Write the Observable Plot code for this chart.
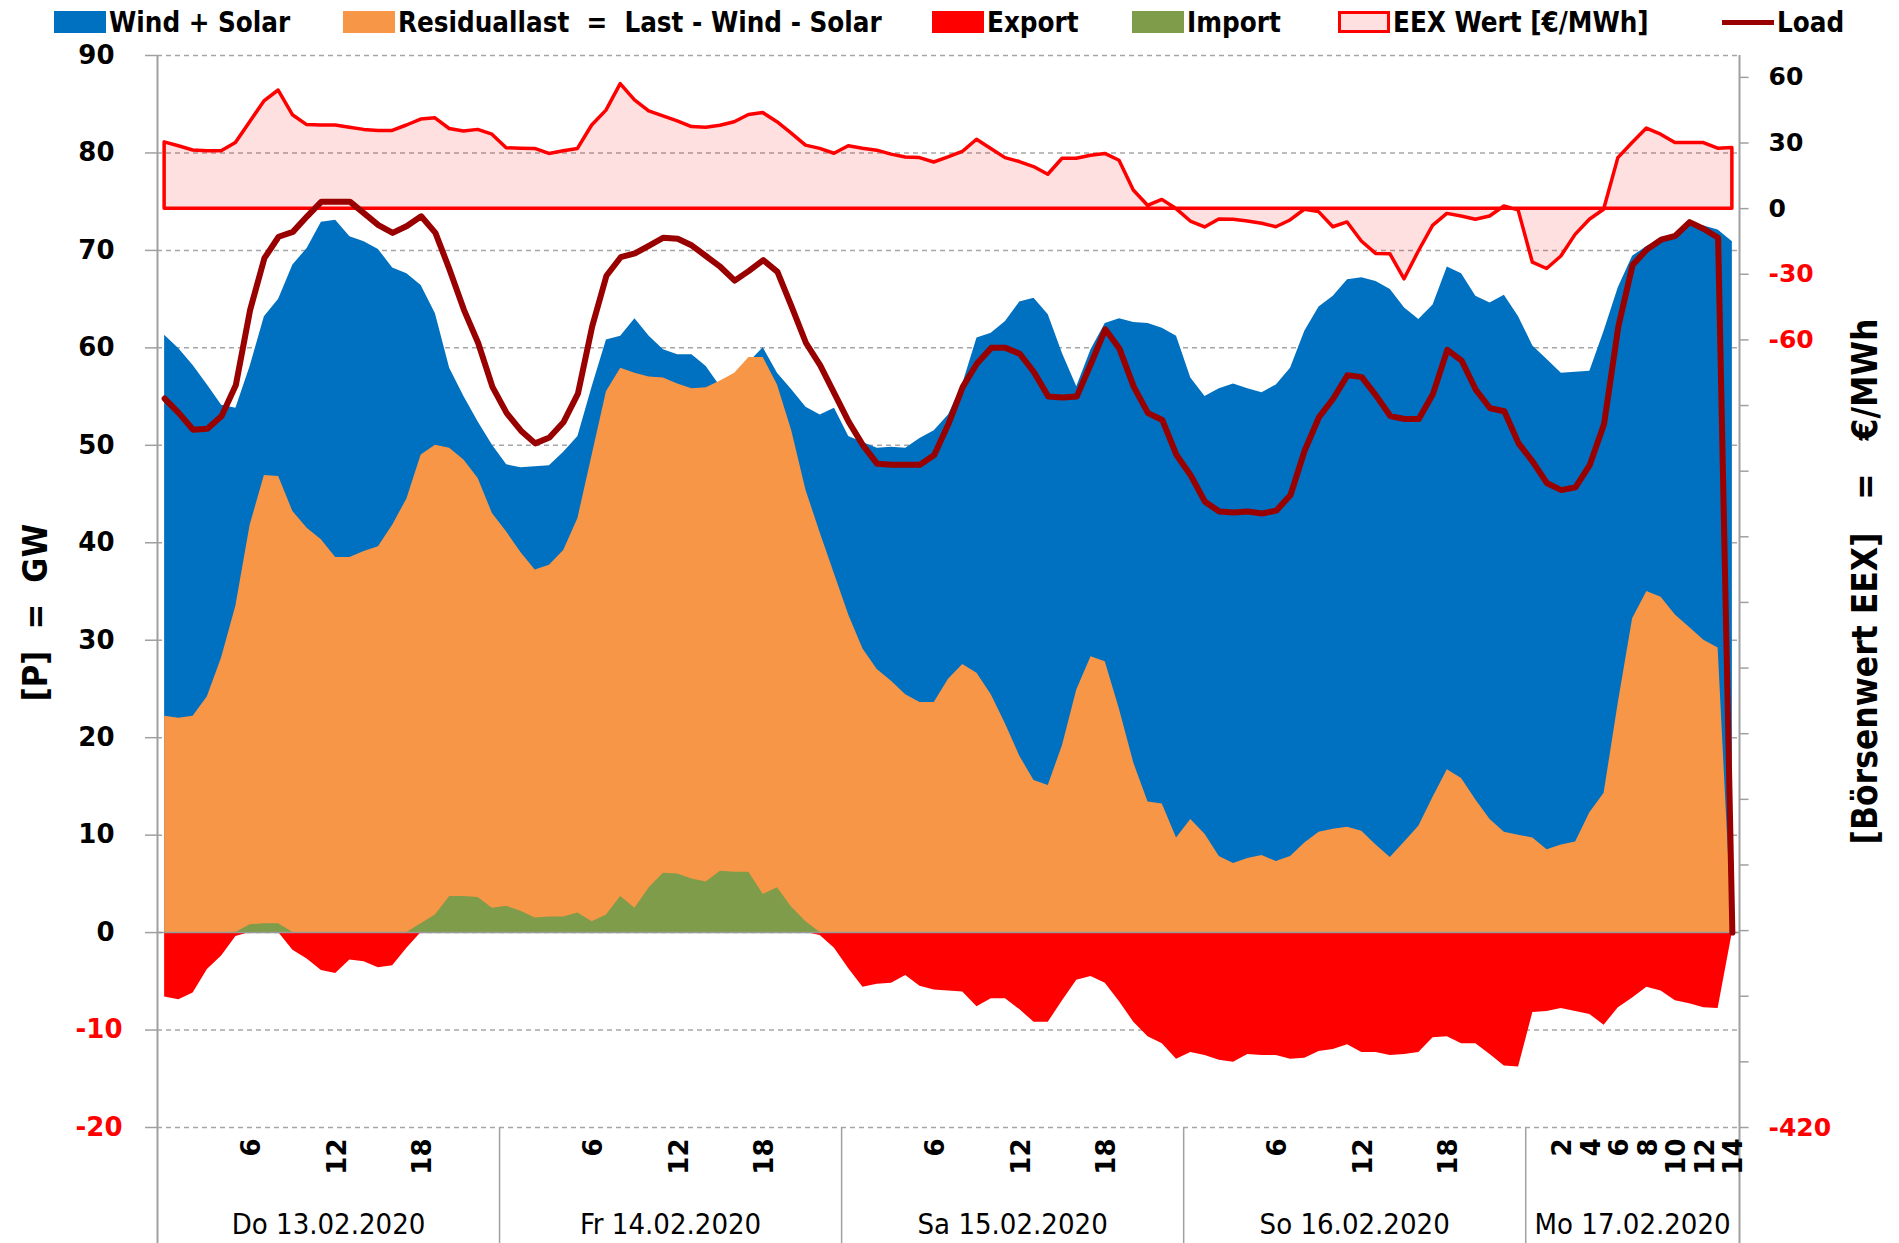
<!DOCTYPE html>
<html><head><meta charset="utf-8">
<script src="https://cdn.jsdelivr.net/npm/d3@7"></script>
<script src="https://cdn.jsdelivr.net/npm/@observablehq/plot@0.6"></script>
<style>
body{margin:0;background:#fff;}
#wrap{position:relative;width:1899px;height:1243px;overflow:hidden;background:#fff;}
#legend{position:absolute;left:0;top:0;width:1899px;height:44px;font-family:"Liberation Sans Narrow","DejaVu Sans Condensed",sans-serif;font-weight:bold;font-size:27.5px;color:#000;}
.item{position:absolute;top:0;height:44px;display:flex;align-items:center;white-space:pre;}
.sw{display:inline-block;width:52px;height:22px;margin-right:3px;box-sizing:border-box;}
#chart{position:absolute;left:0;top:40px;}
</style></head><body>
<div id="wrap"><div id="legend"></div><div id="chart"></div></div>
<script>
// ---------- data (hourly, Do 13.02.2020 00:00 .. Mo 17.02.2020 14:00) ----------
const windSolar = [61.3,59.9,58.2,56.2,54.1,53.8,58.1,63.2,65.0,68.5,70.2,72.9,73.1,71.4,70.9,70.1,68.2,67.6,66.4,63.5,57.9,55.0,52.4,50.0,
  48.0,47.7,47.8,47.9,49.3,50.9,56.0,60.8,61.2,63.0,61.2,59.8,59.3,59.3,58.1,56.0,57.0,58.5,60.0,57.4,55.7,53.9,53.1,53.8,
  50.9,50.3,49.7,49.8,49.7,50.7,51.5,53.1,56.3,61.0,61.5,62.7,64.7,65.1,63.4,59.4,56.0,59.8,62.5,63.0,62.6,62.5,62.0,61.2,
  56.9,55.0,55.8,56.3,55.8,55.4,56.2,57.9,61.7,64.2,65.3,67.0,67.2,66.8,66.0,64.1,62.9,64.4,68.3,67.6,65.3,64.6,65.4,63.2,
  60.2,58.8,57.4,57.5,57.6,61.7,66.2,69.4,70.4,71.2,71.6,72.8,72.5,72.1,70.9];
const residual = [22.2,22.0,22.2,24.2,28.2,33.5,41.8,46.9,46.8,43.2,41.5,40.3,38.5,38.5,39.1,39.6,41.8,44.5,49.0,50.0,49.7,48.5,46.6,43.0,
  41.1,39.0,37.2,37.7,39.2,42.5,49.0,55.5,57.9,57.4,57.0,56.9,56.3,55.8,55.9,56.6,57.4,59.0,59.0,56.2,51.5,45.4,41.0,36.8,
  32.6,29.1,27.0,25.8,24.4,23.6,23.6,26.0,27.5,26.6,24.4,21.4,18.1,15.6,15.1,19.2,24.9,28.3,27.8,22.9,17.4,13.4,13.2,9.7,
  11.6,10.1,7.8,7.1,7.6,7.9,7.3,7.8,9.2,10.3,10.6,10.8,10.4,9.0,7.7,9.3,10.9,13.9,16.7,15.8,13.6,11.6,10.3,10.0,
  9.7,8.5,9.0,9.3,12.3,14.3,23.6,32.2,35.0,34.4,32.6,31.3,30.0,29.2,0];
const importGW = [0,0,0,0,0,0,0.8,0.9,0.9,0,0,0,0,0,0,0,0,0,0.9,1.8,3.7,3.7,3.6,2.5,
  2.7,2.2,1.5,1.6,1.6,2.0,1.1,1.8,3.7,2.5,4.6,6.1,6.0,5.5,5.2,6.3,6.2,6.2,3.9,4.6,2.6,1.1,0,0,
  0,0,0,0,0,0,0,0,0,0,0,0,0,0,0,0,0,0,0,0,0,0,0,0,
  0,0,0,0,0,0,0,0,0,0,0,0,0,0,0,0,0,0,0,0,0,0,0,0,
  0,0,0,0,0,0,0,0,0,0,0,0,0,0,0];
const exportGW = [-6.6,-6.9,-6.2,-3.8,-2.4,-0.4,0,0,0,-1.8,-2.7,-3.9,-4.2,-2.8,-3.0,-3.6,-3.4,-1.6,0,0,0,0,0,0,
  0,0,0,0,0,0,0,0,0,0,0,0,0,0,0,0,0,0,0,0,0,0,-0.3,-1.6,
  -3.7,-5.6,-5.3,-5.2,-4.4,-5.5,-5.9,-6.0,-6.1,-7.6,-6.8,-6.8,-7.9,-9.2,-9.2,-7.0,-4.9,-4.5,-5.2,-7.1,-9.2,-10.7,-11.4,-13.0,
  -12.3,-12.6,-13.1,-13.3,-12.5,-12.6,-12.6,-13.0,-12.9,-12.2,-12.0,-11.5,-12.3,-12.3,-12.6,-12.5,-12.3,-10.8,-10.7,-11.4,-11.4,-12.5,-13.7,-13.8,
  -8.2,-8.1,-7.8,-8.1,-8.4,-9.5,-7.7,-6.7,-5.6,-6.0,-7.0,-7.3,-7.7,-7.8,0];
const load = [54.8,53.3,51.6,51.7,53.0,56.2,63.9,69.2,71.4,71.9,73.5,75.0,75.0,75.0,73.8,72.6,71.8,72.5,73.5,71.8,68.0,63.9,60.5,56.0,
  53.3,51.5,50.2,50.8,52.4,55.3,62.2,67.4,69.3,69.7,70.5,71.3,71.2,70.5,69.4,68.3,66.9,67.9,69.0,67.8,64.2,60.5,58.2,55.3,
  52.4,50.0,48.1,48.0,48.0,48.0,49.0,52.2,56.0,58.4,60.0,60.0,59.4,57.5,55.0,54.9,55.0,58.4,61.9,59.9,56.0,53.3,52.6,49.0,
  46.9,44.2,43.2,43.1,43.2,43.0,43.3,44.9,49.5,52.9,54.8,57.2,57.0,55.1,53.0,52.7,52.7,55.3,59.8,58.7,55.7,53.8,53.5,50.2,
  48.3,46.1,45.4,45.7,48.0,52.2,62.2,68.5,70.1,71.1,71.5,72.9,72.2,71.3,0];
const eex = [30.3,28.5,26.6,26.2,26.2,30.0,39.5,49.0,54.0,42.7,38.2,38.0,38.0,37.0,36.0,35.5,35.5,38.0,40.7,41.3,36.4,35.3,36.0,33.8,
  27.6,27.4,27.3,25.0,26.2,27.3,38.0,44.8,56.9,49.5,44.5,42.2,39.9,37.3,37.0,37.9,39.5,42.8,43.7,39.5,34.3,28.8,27.3,25.1,
  28.5,27.4,26.5,24.7,23.4,23.1,21.1,23.4,25.9,31.5,27.3,23.1,21.3,19.0,15.5,22.8,22.8,24.2,25.0,21.9,8.3,1.3,4.0,-0.2,
  -5.9,-8.6,-5.0,-5.1,-5.9,-6.9,-8.5,-5.4,-0.5,-1.6,-8.5,-6.3,-15.0,-20.7,-20.8,-32.3,-19.6,-7.9,-2.4,-3.6,-5.1,-3.6,1.0,-0.8,
  -24.7,-27.6,-21.9,-12.0,-5.1,-0.5,23.1,30.0,36.6,33.8,30.0,30.0,30.0,27.4,27.7];

const dayLabels = ["Do 13.02.2020","Fr 14.02.2020","Sa 15.02.2020","So 16.02.2020","Mo 17.02.2020"];
const dayStart = [0,24,48,72,96];
const dayHours = [24,24,24,24,15];
const hourTickDay = [0,0,0,1,1,1,2,2,2,3,3,3,4,4,4,4,4,4,4];
const hourTickLabel = [6,12,18,6,12,18,6,12,18,6,12,18,2,4,6,8,10,12,14];
const leftTicks = [90,80,70,60,50,40,30,20,10,0,-10,-20];
const rightTicks = d3.range(-420, 61, 30);
const rightLabeled = [60,30,0,-30,-60,-420];
const eurDomain = [-420, 70];
const gwDomain = [-20, 90];

// ---------- derived ----------
const eurToGW = e => gwDomain[0] + (e - eurDomain[0]) * (gwDomain[1]-gwDomain[0])/(eurDomain[1]-eurDomain[0]);
const table = windSolar.map((v,i) => ({h:i, ws:v, res:residual[i], imp:importGW[i], exp:exportGW[i], load:load[i], eex:eurToGW(eex[i])}));
const nCat = windSolar.length;
const xDom = [-0.5, nCat - 0.5];
const dayBounds = dayStart.map(s => s - 0.5).concat([nCat - 0.5]);
const days = dayLabels.map((t,i) => ({t, c: dayStart[i] + (dayHours[i]-1)/2}));
const hourTicks = hourTickLabel.map((l,i) => ({x: dayStart[hourTickDay[i]] + l, l: String(l)}));
const rTicks = rightTicks.map(e => ({e, y: eurToGW(e)}));
const rLab = rTicks.filter(d => rightLabeled.includes(d.e));

const numFont = "DejaVu Sans";
const txtFont = "'Liberation Sans Narrow','DejaVu Sans Condensed',sans-serif";
const gridC = "#a6a6a6";
const pxPerCat = (1899-157-160)/nCat;
const pxPerGW = (1203-15-116)/(gwDomain[1]-gwDomain[0]);
const tickLen = 12/pxPerCat;
const belowGW = gwDomain[0] - 116/pxPerGW;

const chart = Plot.plot({
  width: 1899, height: 1203,
  marginTop: 15, marginBottom: 116, marginLeft: 157, marginRight: 160,
  x: {domain: xDom, axis: null},
  y: {domain: gwDomain, axis: null},
  style: {background: "white", overflow: "visible"},
  marks: [
    Plot.ruleY(leftTicks, {x1: xDom[0], x2: xDom[1], stroke: gridC, strokeWidth: 1.5, strokeDasharray: "5,4"}),
    Plot.areaY(table, {x: "h", y1: 0, y2: "ws", fill: "#0070C0"}),
    Plot.areaY(table, {x: "h", y1: 0, y2: "res", fill: "#F79646"}),
    Plot.areaY(table, {x: "h", y1: 0, y2: "imp", fill: "#7F9C4A"}),
    Plot.areaY(table, {x: "h", y1: 0, y2: "exp", fill: "#FF0000"}),
    Plot.ruleY([0], {x1: xDom[0], x2: xDom[1], stroke: "#999", strokeWidth: 1.5}),
    Plot.areaY(table, {x: "h", y1: eurToGW(0), y2: "eex", fill: "red", fillOpacity: 0.12, stroke: "#FF0000", strokeWidth: 3.5}),
    Plot.line(table, {x: "h", y: "load", stroke: "#990000", strokeWidth: 6}),
    // axis lines and separators
    Plot.ruleX(xDom, {y1: belowGW, y2: gwDomain[1], stroke: "#a0a0a0", strokeWidth: 2}),
    Plot.ruleX(dayBounds.slice(1, -1), {y1: gwDomain[0], y2: belowGW, stroke: "#a0a0a0", strokeWidth: 1.5}),
    Plot.ruleY(leftTicks, {x1: xDom[0] - tickLen, x2: xDom[0], stroke: "#a0a0a0", strokeWidth: 1.5}),
    Plot.ruleY(rTicks, {y: "y", x1: xDom[1], x2: xDom[1] + tickLen*0.8, stroke: "#a0a0a0", strokeWidth: 1.5}),
    // left tick labels
    Plot.text(leftTicks.filter(d => d >= 0), {y: d => d, text: d => String(d), frameAnchor: "left", dx: -43, textAnchor: "end",
      fontFamily: numFont, fontWeight: "bold", fontSize: 26, fill: "black"}),
    Plot.text(leftTicks.filter(d => d < 0), {y: d => d, text: d => String(d), frameAnchor: "left", dx: -35, textAnchor: "end",
      fontFamily: numFont, fontWeight: "bold", fontSize: 26, fill: "#FF0000"}),
    // right tick labels
    Plot.text(rLab, {y: "y", text: d => String(d.e), frameAnchor: "right", dx: 29, textAnchor: "start",
      fontFamily: numFont, fontWeight: "bold", fontSize: 25, fill: d => d.e < 0 ? "#FF0000" : "black"}),
    // hour labels
    Plot.text(hourTicks, {x: "x", text: "l", frameAnchor: "bottom", dx: 10, dy: 11, rotate: -90, textAnchor: "end",
      fontFamily: numFont, fontWeight: "bold", fontSize: 26, fill: "black"}),
    // day labels
    Plot.text(days, {x: "c", text: "t", frameAnchor: "bottom", dy: 106,
      fontFamily: txtFont, fontSize: 29, fill: "black"}),
    // axis titles
    Plot.text(["[P]\u00a0\u00a0=\u00a0\u00a0GW"], {frameAnchor: "left", dx: -121, dy: 21, rotate: -90, textAnchor: "middle",
      fontFamily: txtFont, fontWeight: "bold", fontSize: 34, fill: "black"}),
    Plot.text(["[Börsenwert EEX]\u00a0\u00a0\u00a0=\u00a0\u00a0\u00a0€/MWh"], {frameAnchor: "right", dx: 126, dy: -10, rotate: -90, textAnchor: "middle",
      fontFamily: txtFont, fontWeight: "bold", fontSize: 35, fill: "black"})
  ]
});
document.getElementById("chart").appendChild(chart);

// ---------- legend ----------
const legendItems = [
  {label: "Wind + Solar", css: "background:#0070C0", left: 54},
  {label: "Residuallast  =  Last - Wind - Solar", css: "background:#F79646", left: 343},
  {label: "Export", css: "background:#FF0000", left: 932},
  {label: "Import", css: "background:#7F9C4A", left: 1132},
  {label: "EEX Wert [€/MWh]", css: "background:rgba(255,0,0,0.12);border:3px solid #FF0000", left: 1338},
  {label: "Load", css: "background:#990000;height:5px", left: 1722}
];
const lg = document.getElementById("legend");
for (const it of legendItems) {
  const d = document.createElement("div");
  d.className = "item";
  d.style.left = it.left + "px";
  d.innerHTML = `<span class="sw" style="${it.css}"></span><span>${it.label}</span>`;
  lg.appendChild(d);
}
</script>
</body></html>
